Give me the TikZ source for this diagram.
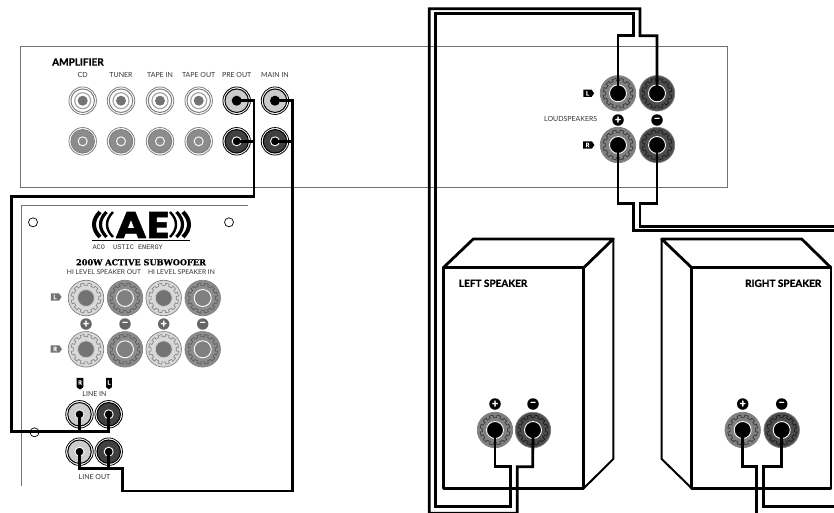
\documentclass[tikz,border=0pt]{standalone}
\usepackage{fontspec}
\usetikzlibrary{calc,shapes.symbols}
\setmainfont{Lato}[BoldFeatures={FakeBold=1.2}]
\newfontfamily\logofont{Poppins}[BoldFeatures={FakeBold=1.5,FakeStretch=1.15}]
\newfontfamily\slabfont{DejaVu Serif}[BoldFeatures={FakeBold=0.6}]
\newfontfamily\monofont{Liberation Mono}

\definecolor{panelgray}{gray}{0.45}
\definecolor{labelgray}{gray}{0.2}

\tikzset{
  wire/.style={line width=2.8pt, line join=miter},
  panel/.style={line width=1pt, draw=panelgray},
  cabinet/.style={line width=2.8pt, line join=round},
  cabside/.style={line width=2pt, line join=round},
  disc/.style={circle, inner sep=0pt},
  screw/.style={disc, draw, line width=0.7pt, minimum size=9pt},
  badge/.style={disc, minimum size=11.5pt, text=white, font=\fontsize{11}{11}\selectfont\bfseries},
  tagright/.style={signal, signal to=east, signal pointer angle=110, inner xsep=2.5pt, inner ysep=1.4pt, text=white, font=\fontsize{6}{6}\selectfont\bfseries},
  tagdown/.style={signal, signal to=south, signal pointer angle=110, inner xsep=1.4pt, inner ysep=2.5pt, text=white, font=\fontsize{6}{6}\selectfont\bfseries},
  small/.style={inner sep=0pt, text=labelgray, font=\fontsize{7}{8}\selectfont},
  hilabel/.style={inner sep=0pt, text=labelgray, font=\fontsize{6.7}{8}\selectfont},
  heading/.style={inner sep=0pt, font=\fontsize{10}{11}\selectfont\bfseries}
}

%% rca socket: name, position, ring, body, inner edge, centre, centre edge
\newcommand{\rca}[7]{
  \node[disc, fill=white, draw=#3, line width=0.8pt, minimum size=27.5pt] (#1) at (#2) {};
  \node[disc, fill=#4, draw=#3, line width=1pt, minimum size=23.5pt] (#1body) at (#1.center) {};
  \node[disc, fill=#4, draw=#5, line width=1.2pt, minimum size=16pt] (#1mid) at (#1.center) {};
  \node[disc, fill=#6, draw=#7, line width=0.9pt, minimum size=9pt] (#1cap) at (#1.center) {};
}

%% binding post: name, position, body, teeth, centre, centre edge
\newcommand{\bpost}[6]{
  \node[disc, fill=#3, draw=gray, line width=0.7pt, minimum size=35.5pt] (#1) at (#2) {};
  \foreach \ang in {0,30,...,330}
    \draw[#4, line width=0.6pt, shift={(#1.center)}, rotate=\ang]
      (-7.5:15) -- (-7.5:12.7) arc[start angle=-7.5, end angle=7.5, radius=12.7]
      -- (7.5:15) arc[start angle=7.5, end angle=22.5, radius=15];
  \node[disc, fill=#5, draw=#6, line width=0.9pt, minimum size=17pt] (#1cap) at (#1.center) {};
}

\begin{document}
\begin{tikzpicture}[x=1pt, y=-1pt]

\path[use as bounding box, clip] (0,0) rectangle (834,512);

%% panels
\draw[panel] (20.7,46) rectangle (727,187.7);
\draw[panel] (248,205.7) -- (21,205.7) -- (21,486);

%% amplifier
\node[heading, anchor=west] (amplabel) at (52,62) {AMPLIFIER};
\node[small] (cdlabel) at (82.7,75) {CD};
\node[small] (tunerlabel) at (121,75) {TUNER};
\node[small] (tapeinlabel) at (160,75) {TAPE IN};
\node[small] (tapeoutlabel) at (198.7,75) {TAPE OUT};
\node[small] (preoutlabel) at (236.7,75) {PRE OUT};
\node[small] (mainlabel) at (275,75) {MAIN IN};

\rca{cdtop}{82.7,100.7}{gray}{white}{black!35}{gray!90!black}{gray!90!black}
\rca{tunertop}{121,100.7}{gray}{white}{black!35}{gray!90!black}{gray!90!black}
\rca{tapeintop}{160,100.7}{gray}{white}{black!35}{gray!90!black}{gray!90!black}
\rca{tapeouttop}{198.7,100.7}{gray}{white}{black!35}{gray!90!black}{gray!90!black}
\rca{pretop}{236.7,100.7}{black}{black!20}{black!20}{black}{black}
\rca{maintop}{275,100.7}{black}{black!20}{black!20}{black}{black}

\rca{cdbot}{82.7,141.3}{gray}{black!45}{black!45}{black!45}{white}
\rca{tunerbot}{121,141.3}{gray}{black!45}{black!45}{black!45}{white}
\rca{tapeinbot}{160,141.3}{gray}{black!45}{black!45}{black!45}{white}
\rca{tapeoutbot}{198.7,141.3}{gray}{black!45}{black!45}{black!45}{white}
\rca{prebot}{236.7,141.3}{black}{black!75}{black!75}{black}{white}
\rca{mainbot}{275,141.3}{black}{black!75}{black!75}{black}{white}

\node[tagright, fill=black] (amptagl) at (587.5,93.3) {L};
\node[tagright, fill=black] (amptagr) at (587.5,145) {R};
\node[small] (loudlabel) at (570.7,119) {LOUDSPEAKERS};
\node[badge, fill=black] (ampplus) at (618,120) {+};
\node[badge, fill=black] (ampminus) at (657,120) {−};
\bpost{lplus}{618,93.3}{black!50}{black!80}{black}{white}
\bpost{lminus}{657,93.3}{black!70}{black!90}{black}{white}
\bpost{rplus}{618,145}{black!50}{black!80}{black}{white}
\bpost{rminus}{657,145}{black!70}{black!90}{black}{white}

%% subwoofer
\node[screw] (screwa) at (33,222.3) {};
\node[screw] (screwb) at (229,222.3) {};
\node[screw] (screwc) at (34.5,432.3) {};

\foreach \off/\wid in {0/4,6.5/3.2,13/2.4}{
  \draw[line width=\wid pt] (100+\off,212) .. controls (92+\off,220) and (92+\off,229) .. (100+\off,237);
  \draw[line width=\wid pt] (183-\off,212) .. controls (191-\off,220) and (191-\off,229) .. (183-\off,237);
}
\node[inner sep=0pt, font=\logofont\fontsize{37}{37}\selectfont\bfseries] (logo) at (142.5,225) {AE};
\coordinate (rulea) at (92.3,240.3);
\coordinate (ruleb) at (190,240.3);
\draw[line width=0.8pt] (rulea) -- (ruleb);
\node[inner sep=0pt, anchor=west, text=labelgray, font=\monofont\fontsize{6.9}{7}\selectfont] (aetext) at (92.3,247) {ACO\ \ USTIC ENERGY};
\node[inner sep=0pt, font=\slabfont\fontsize{8.2}{9}\selectfont\bfseries] (subtitle) at (141,262.3) {200W ACTIVE SUBWOOFER};
\node[hilabel] (hiout) at (104,272.3) {HI LEVEL SPEAKER OUT};
\node[hilabel] (hiin) at (181.5,272.3) {HI LEVEL SPEAKER IN};

\node[tagright, fill=black!55] (subtagl) at (55,297) {L};
\node[tagright, fill=black!55] (subtagr) at (55,349) {R};
\bpost{hoplusl}{86,298}{black!15}{black!50}{black!55}{black!20}
\bpost{hominusl}{125,298}{black!45}{black!65}{black!50}{white}
\bpost{hiplusl}{163.7,298}{black!15}{black!50}{black!55}{black!20}
\bpost{himinusl}{202.7,298}{black!45}{black!65}{black!50}{white}
\bpost{hoplusr}{86,349.3}{black!15}{black!50}{black!55}{black!20}
\bpost{hominusr}{125,349.3}{black!45}{black!65}{black!50}{white}
\bpost{hiplusr}{163.7,349.3}{black!15}{black!50}{black!55}{black!20}
\bpost{himinusr}{202.7,349.3}{black!45}{black!65}{black!50}{white}
\node[badge, fill=black!60] (badgea) at (86,324) {+};
\node[badge, fill=black!60] (badgeb) at (125,324) {−};
\node[badge, fill=black!60] (badgec) at (163.7,324) {+};
\node[badge, fill=black!60] (badged) at (202.7,324) {−};

\node[tagdown, fill=black] (linetagr) at (80,382.5) {R};
\node[tagdown, fill=black] (linetagl) at (109,382.5) {L};
\node[small] (lineinlabel) at (94.5,394) {LINE IN};
\node[small] (lineoutlabel) at (94.5,477) {LINE OUT};
\rca{inr}{79.5,414.3}{black}{black!20}{black!20}{black}{white}
\rca{inl}{108.7,414.3}{black}{black!75}{black!75}{black}{white}
\rca{outr}{79.5,451.7}{black}{black!20}{black!20}{black}{white}
\rca{outl}{108.7,451.7}{black}{black!75}{black!75}{black}{white}

%% speakers
\draw[cabside] (613.3,239) -- (613.3,459) -- (583.7,488.3);
\draw[cabinet] (443.3,267.7) -- (473.3,239) -- (613.3,239) -- (583.7,267.7);
\draw[cabinet] (443.3,267.7) rectangle (583.7,488.3);
\draw[cabside] (661.7,239) -- (661.7,459) -- (691.7,488.3);
\draw[cabinet] (691.7,267.7) -- (661.7,239) -- (801.7,239) -- (831,267.7);
\draw[cabinet] (691.7,267.7) rectangle (831,488.3);
\node[heading, anchor=west] (leftlabel) at (458.7,283.3) {LEFT SPEAKER};
\node[heading, anchor=east] (rightlabel) at (821.5,283.3) {RIGHT SPEAKER};

\node[badge, fill=black] (spka) at (495,404) {+};
\node[badge, fill=black] (spkb) at (533,404) {−};
\node[badge, fill=black] (spkc) at (742.7,404) {+};
\node[badge, fill=black] (spkd) at (781.7,404) {−};
\bpost{leftplus}{495,430}{black!50}{black!80}{black}{white}
\bpost{leftminus}{533,430}{black!70}{black!90}{black}{white}
\bpost{rightplus}{742.7,430}{black!50}{black!80}{black}{white}
\bpost{rightminus}{781.7,430}{black!70}{black!90}{black}{white}

%% wire bends
\coordinate (preturn) at (254,196.7);
\coordinate (lineleft) at (11.5,431.7);
\coordinate (mainturn) at (292.7,491);
\coordinate (linestep) at (122.7,468.7);
\coordinate (lplusa) at (633.7,35.7);
\coordinate (lplusb) at (435.3,13.3);
\coordinate (lplusc) at (510.7,506.7);
\coordinate (lplusd) at (495,466.7);
\coordinate (lminusa) at (640,35.7);
\coordinate (lminusb) at (429.3,8.7);
\coordinate (lminusc) at (517.3,513.2);
\coordinate (lminusd) at (532.7,466.7);
\coordinate (rplusa) at (633.7,203.3);
\coordinate (rplusb) at (840,230.7);
\coordinate (rminusa) at (640,203.3);
\coordinate (rminusb) at (840,226.7);
\coordinate (spkplusa) at (756.7,466.7);
\coordinate (spkplusb) at (756.7,520);
\coordinate (spkminusa) at (763.3,466.7);
\coordinate (spkminusb) at (840,506.7);

%% wires
\draw[wire] (pretop.center) -| (preturn) -| (lineleft) -| (inl.center);
\draw[wire] (prebot.center) -- (prebot -| preturn);
\draw[wire] (inr.center) -- (inr |- lineleft);
\draw[wire] (maintop.center) -| (mainturn) -| (linestep) -| (outr.center);
\draw[wire] (mainbot.center) -- (mainbot -| mainturn);
\draw[wire] (outl.center) -- (outl |- linestep);

\draw[wire] (lplus.center) |- (lplusa) |- (lplusb) |- (lplusc) |- (lplusd) -- (leftplus.center);
\draw[wire] (lminus.center) |- (lminusa) |- (lminusb) |- (lminusc) |- (lminusd) -- (leftminus.center);
\draw[wire] (rplus.center) |- (rplusa) |- (rplusb);
\draw[wire] (rminus.center) |- (rminusa) |- (rminusb);
\draw[wire] (rightplus.center) |- (spkplusa) -- (spkplusb);
\draw[wire] (rightminus.center) |- (spkminusa) |- (spkminusb);

\end{tikzpicture}
\end{document}
